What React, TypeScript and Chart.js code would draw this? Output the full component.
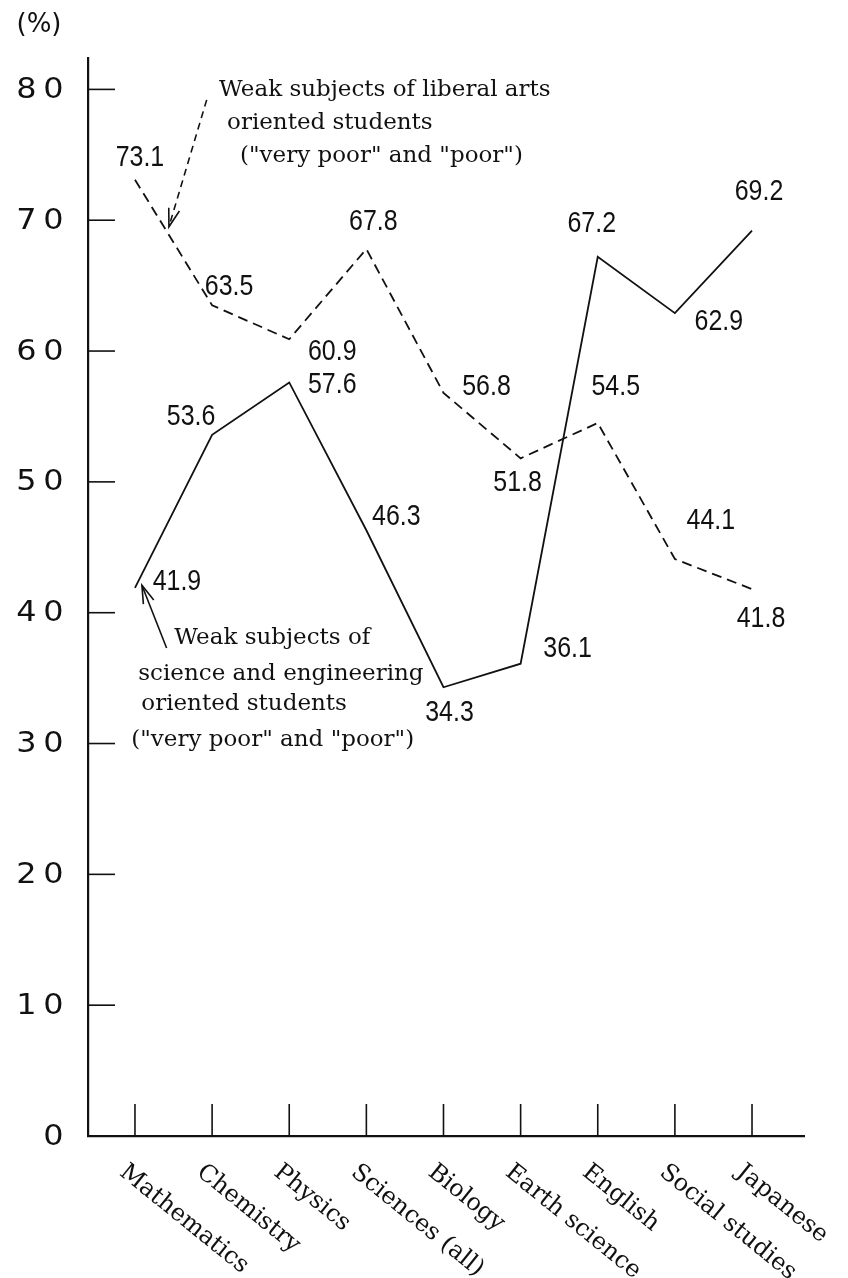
import React, { useEffect, useRef } from "react";
import { Chart, registerables } from "chart.js";

Chart.register(...registerables);

// ---------------- data ----------------
const CATEGORIES = [
  "Mathematics",
  "Chemistry",
  "Physics",
  "Sciences (all)",
  "Biology",
  "Earth science",
  "English",
  "Social studies",
  "Japanese",
];
const SCIENCE_STUDENTS = [41.9, 53.6, 57.6, 46.3, 34.3, 36.1, 67.2, 62.9, 69.2];
const LIBERAL_ARTS_STUDENTS = [73.1, 63.5, 60.9, 67.8, 56.8, 51.8, 54.5, 44.1, 41.8];
const Y_TICKS = [0, 10, 20, 30, 40, 50, 60, 70, 80];
const Y_UNIT = "(%)";
const LIBERAL_NOTE = [
  "Weak subjects of liberal arts",
  "oriented students",
  "(\"very poor\" and \"poor\")",
];
const SCIENCE_NOTE = [
  "Weak subjects of",
  "science and engineering",
  "oriented students",
  "(\"very poor\" and \"poor\")",
];

// ---------------- layout (label placement, not data) ----------------
const SCIENCE_LABEL_OFFSETS = [
  [42, -6], [-21, -18], [43, 3], [30, -13], [6, 26], [47, -15], [-6, -33], [44, 9], [7, -39],
];
const LIBERAL_LABEL_OFFSETS = [
  [5, -22], [17, -18], [43, 13], [7, -27], [43, -6], [-3, 25], [18, -36], [36, -38], [9, 30],
];
const LIBERAL_NOTE_ANCHOR = { x: 1.09, y: 79.5 };
const LIBERAL_NOTE_LINES = [[0, 0], [8, 33], [21, 66]];
const SCIENCE_NOTE_ANCHOR = { x: 0.51, y: 37.6 };
const SCIENCE_NOTE_LINES = [[0, 0], [-36, 36], [-33, 66], [-43, 102]];
const LIBERAL_ARROW = { from: { x: 0.93, y: 79.2 }, to: { x: 0.44, y: 69.5 } };
const SCIENCE_ARROW = { from: { x: 0.41, y: 37.3 }, to: { x: 0.09, y: 42.1 } };

const INK = "#111";

function drawScaled(ctx: CanvasRenderingContext2D, text: string, x: number, y: number, sx: number) {
  ctx.save();
  ctx.translate(x, y);
  ctx.scale(sx, 1);
  ctx.fillText(text, 0, 0);
  ctx.restore();
}

function arrowHead(ctx: CanvasRenderingContext2D, fx: number, fy: number, tx: number, ty: number, len: number, ang: number) {
  const a = Math.atan2(ty - fy, tx - fx);
  ctx.beginPath();
  ctx.moveTo(tx - len * Math.cos(a - ang), ty - len * Math.sin(a - ang));
  ctx.lineTo(tx, ty);
  ctx.lineTo(tx - len * Math.cos(a + ang), ty - len * Math.sin(a + ang));
  ctx.stroke();
}

const overlayPlugin = {
  id: "overlay",
  afterDraw(chart: any) {
    const ctx: CanvasRenderingContext2D = chart.ctx;
    const xs = chart.scales.x;
    const ys = chart.scales.y;
    const area = chart.chartArea;
    ctx.save();
    ctx.strokeStyle = INK;
    ctx.fillStyle = INK;
    ctx.lineCap = "butt";

    // y ticks (inside) + labels
    ctx.lineWidth = 1.6;
    ctx.font = '29px "DejaVu Sans"';
    ctx.textAlign = "center";
    ctx.textBaseline = "middle";
    Y_TICKS.forEach((v) => {
      const py = ys.getPixelForValue(v);
      if (v !== 0) {
        ctx.beginPath();
        ctx.moveTo(area.left, py);
        ctx.lineTo(area.left + 27, py);
        ctx.stroke();
      }
      const s = String(v);
      for (let k = 0; k < s.length; k++) {
        const cx = 53.5 - (s.length - 1 - k) * 27;
        drawScaled(ctx, s[k], cx, py + 1, 1.1);
      }
    });

    // unit
    ctx.font = '26px "DejaVu Sans"';
    ctx.fillText(Y_UNIT, 39, 25);

    // x ticks (inside) + rotated labels
    ctx.lineWidth = 1.6;
    ctx.font = '24px "DejaVu Serif"';
    CATEGORIES.forEach((c, i) => {
      const px = xs.getPixelForValue(i);
      ctx.beginPath();
      ctx.moveTo(px, area.bottom);
      ctx.lineTo(px, area.bottom - 32);
      ctx.stroke();
      ctx.save();
      ctx.translate(px - 5, area.bottom + 24);
      ctx.rotate((39 * Math.PI) / 180);
      ctx.textAlign = "left";
      ctx.textBaseline = "top";
      ctx.fillText(c, 0, 0);
      ctx.restore();
    });

    // value labels
    ctx.font = '29px "Liberation Sans"';
    ctx.textAlign = "center";
    ctx.textBaseline = "middle";
    const drawSeriesLabels = (vals: number[], offs: number[][]) => {
      vals.forEach((v, i) => {
        const px = xs.getPixelForValue(i);
        const py = ys.getPixelForValue(v);
        drawScaled(ctx, v.toFixed(1), px + offs[i][0], py + offs[i][1], 0.86);
      });
    };
    drawSeriesLabels(SCIENCE_STUDENTS, SCIENCE_LABEL_OFFSETS);
    drawSeriesLabels(LIBERAL_ARTS_STUDENTS, LIBERAL_LABEL_OFFSETS);

    // annotations
    ctx.font = '23px "DejaVu Serif"';
    ctx.textAlign = "left";
    ctx.textBaseline = "alphabetic";
    const drawNote = (lines: string[], anchor: { x: number; y: number }, offs: number[][]) => {
      const ax = xs.getPixelForValue(anchor.x);
      const ay = ys.getPixelForValue(anchor.y);
      lines.forEach((t, k) => ctx.fillText(t, ax + offs[k][0], ay + offs[k][1]));
    };
    drawNote(LIBERAL_NOTE, LIBERAL_NOTE_ANCHOR, LIBERAL_NOTE_LINES);
    drawNote(SCIENCE_NOTE, SCIENCE_NOTE_ANCHOR, SCIENCE_NOTE_LINES);

    // arrows
    const drawArrow = (arrow: any, dashed: boolean) => {
      const fx = xs.getPixelForValue(arrow.from.x);
      const fy = ys.getPixelForValue(arrow.from.y);
      const tx = xs.getPixelForValue(arrow.to.x);
      const ty = ys.getPixelForValue(arrow.to.y);
      ctx.lineWidth = 1.6;
      ctx.setLineDash(dashed ? [7, 5] : []);
      ctx.beginPath();
      ctx.moveTo(fx, fy);
      ctx.lineTo(tx, ty);
      ctx.stroke();
      ctx.setLineDash([]);
      arrowHead(ctx, fx, fy, tx, ty, 19, (17 * Math.PI) / 180);
    };
    drawArrow(LIBERAL_ARROW, true);
    drawArrow(SCIENCE_ARROW, false);

    ctx.restore();
  },
};

export default function App() {
  const ref = useRef<HTMLCanvasElement>(null);

  useEffect(() => {
    document.body.style.margin = "0";
    const canvas = ref.current;
    if (!canvas) return;
    const chart = new Chart(canvas, {
      type: "line",
      data: {
        datasets: [
          {
            label: "Science and engineering oriented students",
            data: SCIENCE_STUDENTS.map((v, i) => ({ x: i, y: v })),
            borderColor: INK,
            borderWidth: 1.8,
            pointRadius: 0,
            fill: false,
            tension: 0,
          },
          {
            label: "Liberal arts oriented students",
            data: LIBERAL_ARTS_STUDENTS.map((v, i) => ({ x: i, y: v })),
            borderColor: INK,
            borderWidth: 1.8,
            borderDash: [10, 6],
            pointRadius: 0,
            fill: false,
            tension: 0,
          },
        ],
      },
      options: {
        animation: false,
        responsive: false,
        devicePixelRatio: 1,
        layout: { padding: { left: 88, top: 58, right: 44, bottom: 142 } },
        plugins: {
          legend: { display: false },
          tooltip: { enabled: false },
          title: { display: false },
        },
        scales: {
          x: {
            type: "linear",
            min: -0.609,
            max: 8.674,
            grid: { display: false, drawTicks: false },
            border: { display: true, color: INK, width: 2.2 },
            ticks: { display: false },
          },
          y: {
            type: "linear",
            min: 0,
            max: 82.4,
            grid: { display: false, drawTicks: false },
            border: { display: true, color: INK, width: 2.2 },
            ticks: { display: false },
          },
        },
      },
      plugins: [overlayPlugin],
    } as any);
    return () => chart.destroy();
  }, []);

  return (
    <div style={{ width: 848, height: 1278, background: "#fff" }}>
      <canvas ref={ref} width={848} height={1278} style={{ display: "block", width: 848, height: 1278 }} />
    </div>
  );
}
